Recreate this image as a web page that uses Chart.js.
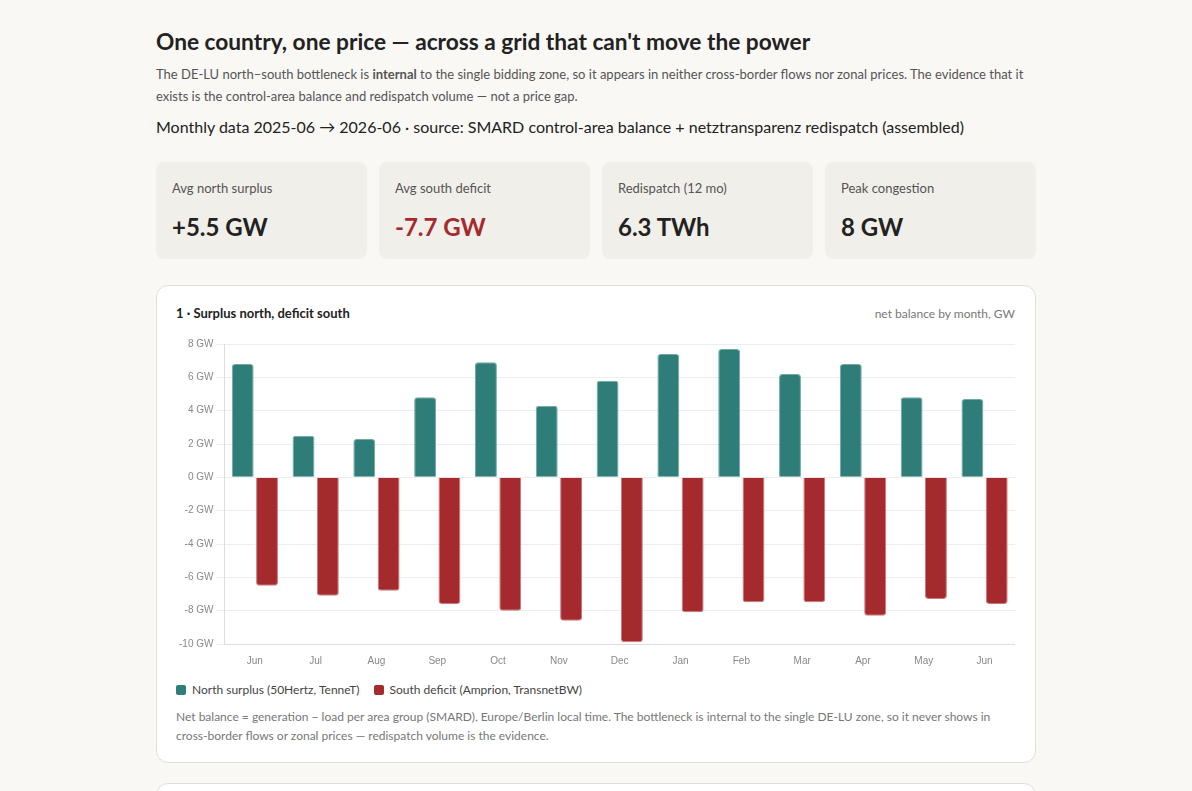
<!DOCTYPE html>
<html>
<head>
<meta charset="utf-8">
<script src="https://cdn.jsdelivr.net/npm/chart.js@4.4.1/dist/chart.umd.min.js"></script>
<style>
  body { margin: 0; background: #f9f8f5; font-family: "Segoe UI", Lato, "Noto Sans", sans-serif; color: #222; }
  .wrap { width: 880px; margin: 0 auto; padding-top: 28px; }
  h1 { font-size: 22.7px; font-weight: 700; margin: 0 0 8px 0; }
  .lede { font-size: 13px; line-height: 22px; color: #555; margin: 0 0 10px 0; }
  .meta { font-size: 16px; color: #222; margin: 0 0 26px 0; }
  .kpis { display: flex; gap: 12px; margin-bottom: 26px; }
  .kpi { flex: 1; background: #f1efe9; border-radius: 8px; height: 97px; padding: 18px 16px; box-sizing: border-box; }
  .kpi .lbl { font-size: 13px; color: #555; }
  .kpi .val { font-size: 24px; font-weight: 700; margin-top: 16px; }
  .kpi .neg { color: #a52a2e; }
  .card { background: #fff; border: 1px solid #e2dfd9; border-radius: 12px; padding: 19px 20px 17px 19px; margin-bottom: 20px; }
  .card-head { display: flex; justify-content: space-between; align-items: baseline; }
  .card-head .t { font-size: 13px; font-weight: 700; }
  .card-head .s { font-size: 12px; color: #777; }
  .chart-box { position: relative; height: 335px; margin-top: 14px; }
  .legend { font-size: 12px; color: #444; margin-top: 12px; display: flex; gap: 14px; }
  .legend span i { display: inline-block; width: 10px; height: 10px; border-radius: 2px; margin-right: 6px; vertical-align: -1px; }
  .note { font-size: 12px; line-height: 19px; color: #777; margin-top: 10px; }
</style>
</head>
<body>
<div class="wrap">
  <h1>One country, one price — across a grid that can't move the power</h1>
  <p class="lede">The DE-LU north–south bottleneck is <b>internal</b> to the single bidding zone, so it appears in neither cross-border flows nor zonal prices. The evidence that it exists is the control-area balance and redispatch volume — not a price gap.</p>
  <p class="meta">Monthly data 2025-06 → 2026-06 · source: SMARD control-area balance + netztransparenz redispatch (assembled)</p>
  <div class="kpis">
    <div class="kpi"><div class="lbl">Avg north surplus</div><div class="val">+5.5 GW</div></div>
    <div class="kpi"><div class="lbl">Avg south deficit</div><div class="val neg">-7.7 GW</div></div>
    <div class="kpi"><div class="lbl">Redispatch (12 mo)</div><div class="val">6.3 TWh</div></div>
    <div class="kpi"><div class="lbl">Peak congestion</div><div class="val">8 GW</div></div>
  </div>
  <div class="card">
    <div class="card-head"><span class="t">1 · Surplus north, deficit south</span><span class="s">net balance by month, GW</span></div>
    <div class="chart-box"><canvas id="chart"></canvas></div>
    <div class="legend">
      <span><i style="background:#2e7d78"></i>North surplus (50Hertz, TenneT)</span>
      <span><i style="background:#a52a2e"></i>South deficit (Amprion, TransnetBW)</span>
    </div>
    <div class="note">Net balance = generation − load per area group (SMARD), Europe/Berlin local time. The bottleneck is internal to the single DE-LU zone, so it never shows in cross-border flows or zonal prices — redispatch volume is the evidence.</div>
  </div>
  <div class="card" style="height:200px"></div>
</div>
<script>
const months = ['Jun', 'Jul', 'Aug', 'Sep', 'Oct', 'Nov', 'Dec', 'Jan', 'Feb', 'Mar', 'Apr', 'May', 'Jun'];
const northSurplus = [6.8, 2.5, 2.3, 4.8, 6.9, 4.3, 5.8, 7.4, 7.7, 6.2, 6.8, 4.8, 4.7];
const southDeficit = [-6.5, -7.1, -6.8, -7.6, -8.0, -8.6, -9.9, -8.1, -7.5, -7.5, -8.3, -7.3, -7.6];

const ctx = document.getElementById('chart').getContext('2d');
new Chart(ctx, {
  type: 'bar',
  data: {
    labels: months,
    datasets: [{
      label: 'North surplus (50Hertz, TenneT)',
      data: northSurplus,
      backgroundColor: '#2e7d78',
      borderColor: '#6fa8a4',
      borderWidth: 1,
      borderRadius: 3
    }, {
      label: 'South deficit (Amprion, TransnetBW)',
      data: southDeficit,
      backgroundColor: '#a52a2e',
      borderColor: '#c9797b',
      borderWidth: 1,
      borderRadius: 3
    }]
  },
  options: {
    responsive: true,
    maintainAspectRatio: false,
    animation: false,
    plugins: {
      legend: { display: false },
      tooltip: { enabled: false }
    },
    scales: {
      x: {
        grid: { display: false },
        border: { color: '#ddd' },
        ticks: { color: '#888', font: { size: 10 } }
      },
      y: {
        min: -10,
        max: 8,
        grid: { color: '#eeeeee' },
        border: { color: '#ddd' },
        ticks: {
          stepSize: 2,
          color: '#888',
          font: { size: 10 },
          callback: function (v) { return v + ' GW'; }
        }
      }
    }
  }
});
</script>
</body>
</html>
